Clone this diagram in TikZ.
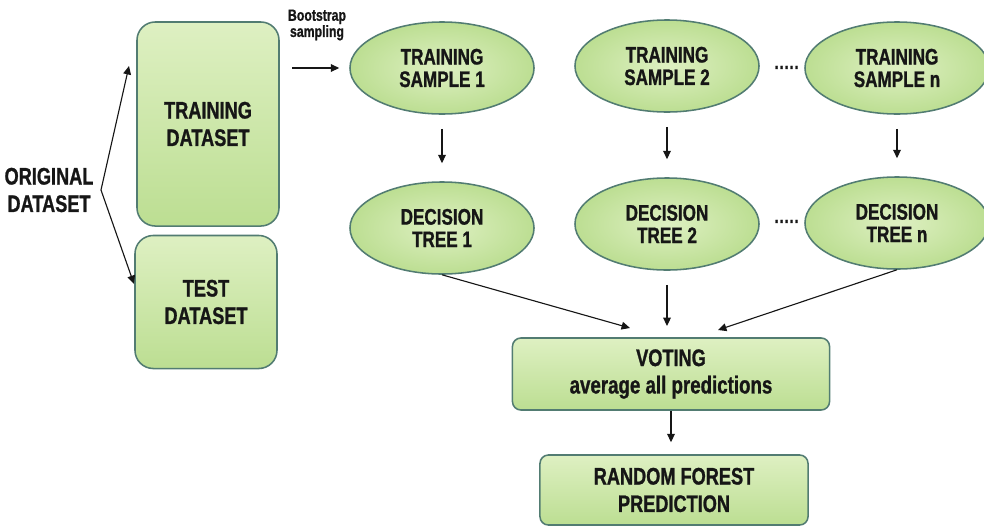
\documentclass[tikz,border=0pt]{standalone}
\usepackage{fontspec}
\newfontfamily\diagfont[FakeStretch=0.76, FakeBold=1]{Liberation Sans}
\usepackage{tikz}
\usetikzlibrary{positioning, shapes.geometric, arrows.meta}
\definecolor{LeafGreen}{RGB}{188, 222, 146}
\definecolor{LeafLight}{RGB}{222, 240, 194}
\definecolor{LeafEdge}{RGB}{82, 124, 114}
\definecolor{InkDark}{RGB}{22, 22, 22}

\begin{document}
\begin{tikzpicture}[x=0.025cm, y=-0.025cm,
    txt/.style={text=InkDark, font=\diagfont\bfseries\fontsize{17}{19.5}\selectfont, align=center},
    databox/.style={txt, rectangle, rounded corners=13pt, draw=LeafEdge, line width=1.1pt,
        top color=LeafLight, bottom color=LeafGreen, minimum width=3.55cm, inner sep=0pt},
    blob/.style={txt, ellipse, draw=LeafEdge, line width=1.1pt, inner color=LeafLight,
        outer color=LeafGreen, minimum width=4.6cm, minimum height=2.3cm, inner sep=0pt,
        font=\diagfont\bfseries\fontsize{16}{16}\selectfont},
    resbox/.style={databox, rounded corners=6pt, minimum height=1.78cm},
    more/.style={text=InkDark, font=\diagfont\bfseries\fontsize{14}{14}\selectfont},
    arr/.style={-{Triangle[length=6pt, width=5.5pt]}, line width=0.8pt, InkDark},
    down/.style={arr, shorten <=0.35cm, shorten >=0.45cm}]
    \useasboundingbox (0,0) rectangle (984,527);

    % Dataset split
    \node[txt] (orig) at (49,190) {ORIGINAL\\DATASET};
    \node[databox, minimum height=5.1cm] (train) at (208,124) {TRAINING\\DATASET};
    \node[databox, minimum height=3.325cm] (test) at (206,302) {TEST\\DATASET};
    \coordinate (fork) at (101,190);
    \coordinate (traintip) at (129,66);
    \coordinate (testtip) at (134,284);
    \draw[arr] (fork) -- (traintip);
    \draw[arr] (fork) -- (testtip);

    % Bootstrap samples
    \node[text=InkDark, font=\diagfont\bfseries\fontsize{11.5}{11.5}\selectfont, align=center] (boot) at (317,25) {Bootstrap\\sampling};
    \node[blob] (ts1) at (442,68) {TRAINING\\SAMPLE 1};
    \node[blob] (ts2) at (667,66) {TRAINING\\SAMPLE 2};
    \node[blob] (tsn) at (897,68) {TRAINING\\SAMPLE n};
    \node[more] (dots1) at (787,70) {·····};
    \coordinate (bootstart) at (292,68);
    \draw[arr, shorten >=0.25cm] (bootstart) -- (ts1.west);

    % Trees
    \node[blob] (dt1) at (442,228) {DECISION\\TREE 1};
    \node[blob] (dt2) at (667,224) {DECISION\\TREE 2};
    \node[blob] (dtn) at (897,223) {DECISION\\TREE n};
    \node[more] (dots2) at (787,224) {·····};
    \draw[down] (ts1) -- (dt1);
    \draw[down] (ts2) -- (dt2);
    \draw[down] (tsn) -- (dtn);

    % Voting
    \node[resbox, minimum width=7.925cm, minimum height=1.8cm] (vote) at (671,374)
        {VOTING\\\fontsize{17.5}{19.5}\selectfont average all predictions};
    \node[resbox, minimum width=6.7cm, minimum height=1.75cm] (rf) at (674,490)
        {RANDOM FOREST\\PREDICTION};
    \coordinate (vin1) at (630,328);
    \coordinate (vin2) at (667,326);
    \coordinate (vin3) at (718,330);
    \draw[arr] (dt1.south) -- (vin1);
    \draw[arr, shorten <=0.35cm] (dt2) -- (vin2);
    \draw[arr] (dtn.south) -- (vin3);
    \draw[arr, shorten >=0.3cm] (vote) -- (vote |- rf.north);
\end{tikzpicture}
\end{document}
